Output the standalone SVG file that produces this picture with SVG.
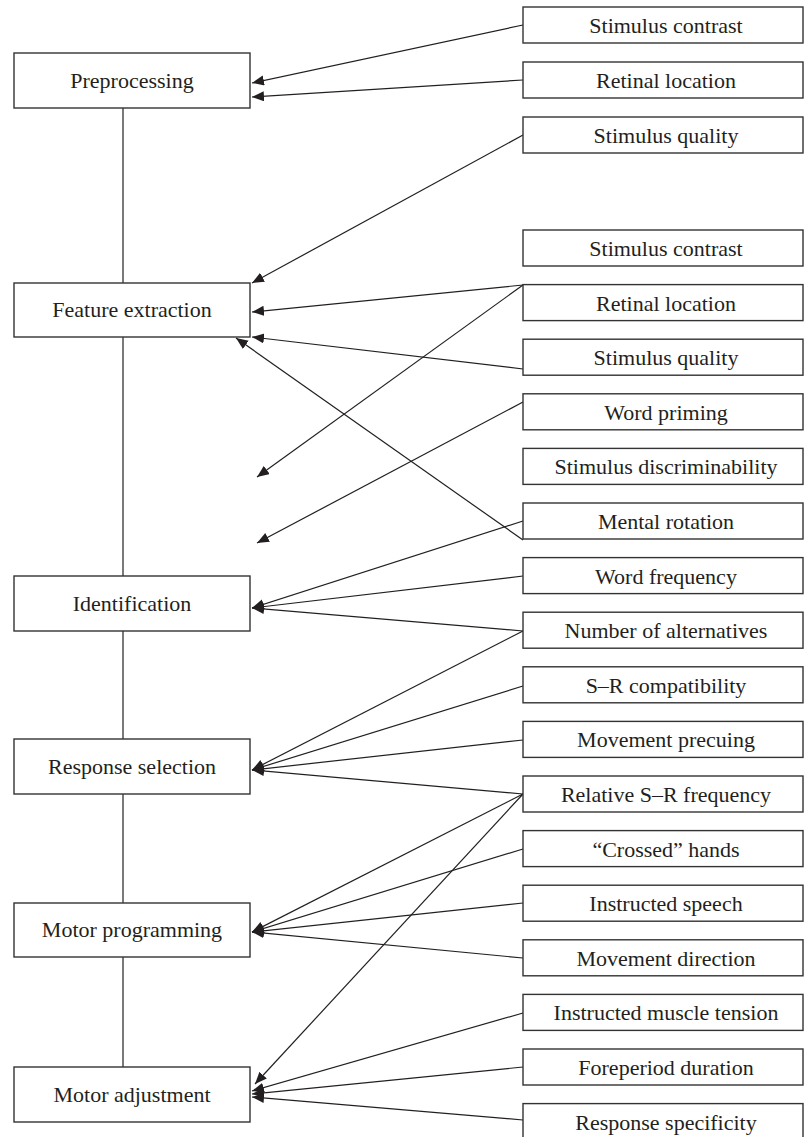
<svg xmlns="http://www.w3.org/2000/svg" width="804" height="1137" viewBox="0 0 804 1137">
  <style>
    .box { fill: #ffffff; stroke: #333333; stroke-width: 1.4; }
    .lbl { font-family: "Liberation Serif", "Times New Roman", serif; font-size: 22px; fill: #231f20; text-anchor: middle; }
    .wire { stroke: #231f20; stroke-width: 1.2; fill: none; }
    .arr { stroke: #231f20; stroke-width: 1.2; fill: none; marker-end: url(#head); }
  </style>
  <defs>
    <marker id="head" markerUnits="userSpaceOnUse" markerWidth="13" markerHeight="11" refX="12" refY="5" orient="auto">
      <path d="M0,0 L12,5 L0,10 z" fill="#231f20"/>
    </marker>
  </defs>
  <rect width="804" height="1137" fill="#ffffff"/>

  <!-- spine linking the processing stages -->
  <g id="spine">
    <line class="wire" x1="123" y1="108" x2="123" y2="283"/>
    <line class="wire" x1="123" y1="337" x2="123" y2="576"/>
    <line class="wire" x1="123" y1="631" x2="123" y2="739"/>
    <line class="wire" x1="123" y1="794" x2="123" y2="903"/>
    <line class="wire" x1="123" y1="957" x2="123" y2="1067"/>
  </g>

  <!-- influence connectors: factor (right) to stage (left) -->
  <g id="connectors">
    <line class="arr" x1="523" y1="25" x2="252" y2="83"/>
    <line class="arr" x1="523" y1="80" x2="252" y2="97"/>
    <line class="arr" x1="523" y1="135" x2="252" y2="283"/>
    <line class="arr" x1="523" y1="285" x2="252" y2="312"/>
    <line class="arr" x1="523" y1="285" x2="257" y2="477"/>
    <line class="arr" x1="523" y1="369" x2="252" y2="337"/>
    <line class="arr" x1="523" y1="402" x2="257" y2="543"/>
    <line class="arr" x1="523" y1="540" x2="236" y2="338"/>
    <line class="arr" x1="523" y1="521" x2="252" y2="608"/>
    <line class="arr" x1="523" y1="576" x2="252" y2="608"/>
    <line class="arr" x1="523" y1="631" x2="252" y2="608"/>
    <line class="arr" x1="523" y1="631" x2="252" y2="770"/>
    <line class="arr" x1="523" y1="686" x2="252" y2="770"/>
    <line class="arr" x1="523" y1="740" x2="252" y2="770"/>
    <line class="arr" x1="523" y1="794" x2="252" y2="770"/>
    <line class="arr" x1="523" y1="794" x2="252" y2="932"/>
    <line class="arr" x1="523" y1="794" x2="255" y2="1084"/>
    <line class="arr" x1="523" y1="849" x2="252" y2="932"/>
    <line class="arr" x1="523" y1="903" x2="252" y2="932"/>
    <line class="arr" x1="523" y1="958" x2="252" y2="932"/>
    <line class="arr" x1="523" y1="1013" x2="252" y2="1091"/>
    <line class="arr" x1="523" y1="1067" x2="252" y2="1094"/>
    <line class="arr" x1="523" y1="1120" x2="252" y2="1097"/>
  </g>

  <!-- processing stages -->
  <g id="stage-preprocessing"><rect class="box" x="14" y="53" width="236" height="55"/><text class="lbl" x="132" y="88">Preprocessing</text></g>
  <g id="stage-feature-extraction"><rect class="box" x="14" y="283" width="236" height="54"/><text class="lbl" x="132" y="317">Feature extraction</text></g>
  <g id="stage-identification"><rect class="box" x="14" y="576" width="236" height="55"/><text class="lbl" x="132" y="611">Identification</text></g>
  <g id="stage-response-selection"><rect class="box" x="14" y="739" width="236" height="55"/><text class="lbl" x="132" y="774">Response selection</text></g>
  <g id="stage-motor-programming"><rect class="box" x="14" y="903" width="236" height="54"/><text class="lbl" x="132" y="937">Motor programming</text></g>
  <g id="stage-motor-adjustment"><rect class="box" x="14" y="1067" width="236" height="55"/><text class="lbl" x="132" y="1102">Motor adjustment</text></g>

  <!-- experimental factors -->
  <g id="f-stimulus-contrast-1"><rect class="box" x="523" y="7" width="280" height="36"/><text class="lbl" x="666" y="33">Stimulus contrast</text></g>
  <g id="f-retinal-location-1"><rect class="box" x="523" y="62" width="280" height="36"/><text class="lbl" x="666" y="88">Retinal location</text></g>
  <g id="f-stimulus-quality-1"><rect class="box" x="523" y="117" width="280" height="36"/><text class="lbl" x="666" y="143">Stimulus quality</text></g>
  <g id="f-stimulus-contrast-2"><rect class="box" x="523" y="230" width="280" height="36"/><text class="lbl" x="666" y="256">Stimulus contrast</text></g>
  <g id="f-retinal-location-2"><rect class="box" x="523" y="284.6" width="280" height="36"/><text class="lbl" x="666" y="310.6">Retinal location</text></g>
  <g id="f-stimulus-quality-2"><rect class="box" x="523" y="339.2" width="280" height="36"/><text class="lbl" x="666" y="365.2">Stimulus quality</text></g>
  <g id="f-word-priming"><rect class="box" x="523" y="393.8" width="280" height="36"/><text class="lbl" x="666" y="419.8">Word priming</text></g>
  <g id="f-stimulus-discriminability"><rect class="box" x="523" y="448.4" width="280" height="36"/><text class="lbl" x="666" y="474.4">Stimulus discriminability</text></g>
  <g id="f-mental-rotation"><rect class="box" x="523" y="503" width="280" height="36"/><text class="lbl" x="666" y="529">Mental rotation</text></g>
  <g id="f-word-frequency"><rect class="box" x="523" y="557.6" width="280" height="36"/><text class="lbl" x="666" y="583.6">Word frequency</text></g>
  <g id="f-number-of-alternatives"><rect class="box" x="523" y="612.2" width="280" height="36"/><text class="lbl" x="666" y="638.2">Number of alternatives</text></g>
  <g id="f-sr-compatibility"><rect class="box" x="523" y="666.8" width="280" height="36"/><text class="lbl" x="666" y="692.8">S–R compatibility</text></g>
  <g id="f-movement-precuing"><rect class="box" x="523" y="721.4" width="280" height="36"/><text class="lbl" x="666" y="747.4">Movement precuing</text></g>
  <g id="f-relative-sr-frequency"><rect class="box" x="523" y="776" width="280" height="36"/><text class="lbl" x="666" y="802">Relative S–R frequency</text></g>
  <g id="f-crossed-hands"><rect class="box" x="523" y="830.6" width="280" height="36"/><text class="lbl" x="666" y="856.6">“Crossed” hands</text></g>
  <g id="f-instructed-speech"><rect class="box" x="523" y="885.2" width="280" height="36"/><text class="lbl" x="666" y="911.2">Instructed speech</text></g>
  <g id="f-movement-direction"><rect class="box" x="523" y="939.8" width="280" height="36"/><text class="lbl" x="666" y="965.8">Movement direction</text></g>
  <g id="f-instructed-muscle-tension"><rect class="box" x="523" y="994.4" width="280" height="36"/><text class="lbl" x="666" y="1020.4">Instructed muscle tension</text></g>
  <g id="f-foreperiod-duration"><rect class="box" x="523" y="1049" width="280" height="36"/><text class="lbl" x="666" y="1075">Foreperiod duration</text></g>
  <g id="f-response-specificity"><rect class="box" x="523" y="1103.6" width="280" height="36"/><text class="lbl" x="666" y="1129.6">Response specificity</text></g>
</svg>
